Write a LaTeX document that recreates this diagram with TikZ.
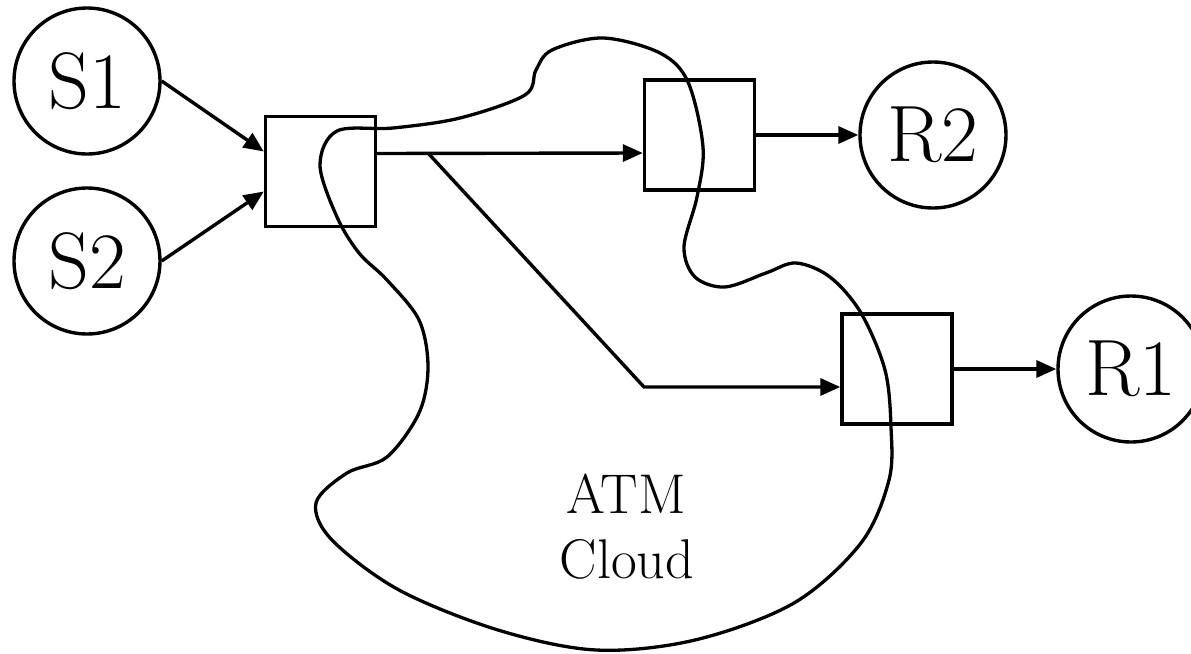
\documentclass[tikz,border=0pt]{standalone}
\usetikzlibrary{arrows.meta}
\begin{document}
\begin{tikzpicture}[x=0.5pt,y=-0.5pt,
  line width=1.7pt,
  host/.style={draw,circle,minimum size=73pt,inner sep=0pt,font=\fontsize{40}{48}\selectfont},
  switchbox/.style={draw,rectangle,minimum width=55pt,minimum height=55pt,inner sep=0pt},
  arr/.style={-{Triangle[length=10pt,width=8.5pt]}},
  lbl/.style={font=\fontsize{28}{33}\selectfont,anchor=base,inner sep=0pt}]
\useasboundingbox (0,0) rectangle (1191,654);
% cloud
\draw[line width=1.65pt] plot[smooth cycle,tension=0.55] coordinates {
 (320,165) (337,131) (393,128) (460,118) (525,95) (536,70) (552,50)
 (603,38) (660,53) (688,82) (703,147) (697,197) (684,247) (695,277)
 (725,287) (766,273) (796,263) (830,277) (861,313) (885,370) (891,427)
 (889,480) (861,543) (794,603) (695,640) (596,650) (498,630) (399,590)
 (332,540) (316,503) (347,473) (387,457) (419,413) (428,367) (419,320)
 (387,280) (359,253) (337,217)};
\node[lbl] (atm) at (626,513) {ATM};
\node[lbl] (cloudtxt) at (627,578) {Cloud};
% hosts
\node[host] (S1) at (87,81) {S1};
\node[host] (S2) at (87,261) {S2};
\node[host] (R2) at (933,135) {R2};
\node[host] (R1) at (1131,369) {R1};
% switches
\node[switchbox] (A) at (320.5,171.5) {};
\node[switchbox] (B) at (699.5,135) {};
\node[switchbox] (C) at (897,369) {};
\coordinate (split) at (428,153);
\coordinate (bend) at (644,387);
% connectors
\draw[arr] (S1.east) -- ([yshift=10pt]A.west);
\draw[arr] (S2.east) -- ([yshift=-10pt]A.west);
\draw[arr] ([yshift=9pt]A.east) -- ([yshift=-9pt]B.west);
\draw[arr] (split) -- (bend) -- ([yshift=-9pt]C.west);
\draw[arr] (B.east) -- (R2);
\draw[arr] (C.east) -- (R1);
\end{tikzpicture}
\end{document}
